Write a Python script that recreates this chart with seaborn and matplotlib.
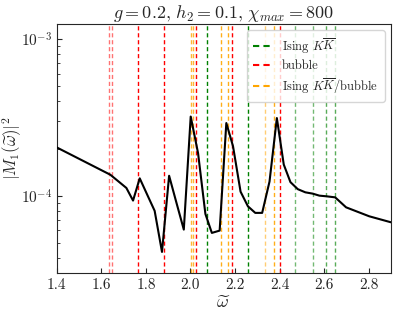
"""Form factor |M_1(omega)|^2 with threshold lines."""

import matplotlib
matplotlib.use("Agg")
import matplotlib.pyplot as plt
import numpy as np
import pandas as pd
import seaborn as sns

omega = [1.40, 1.64, 1.712, 1.742, 1.772, 1.809, 1.839, 1.872, 1.904, 1.937,
         1.970, 2.001, 2.034, 2.067, 2.096, 2.131, 2.161, 2.191, 2.225, 2.258,
         2.291, 2.322, 2.355, 2.388, 2.419, 2.449, 2.482, 2.516, 2.549, 2.579,
         2.612, 2.650, 2.699, 2.803, 2.90]
m1_sq = [2.03e-4, 1.36e-4, 1.12e-4, 9.3e-5, 1.29e-4, 9.9e-5, 8.0e-5, 4.37e-5,
         1.34e-4, 9.0e-5, 6.07e-5, 3.2e-4, 1.87e-4, 7.64e-5, 5.78e-5, 5.98e-5,
         2.91e-4, 2.07e-4, 1.06e-4, 8.55e-5, 7.76e-5, 7.76e-5, 1.23e-4, 3.13e-4,
         1.58e-4, 1.22e-4, 1.10e-4, 1.05e-4, 1.03e-4, 1.0e-4, 9.9e-5, 9.75e-5,
         8.42e-5, 7.38e-5, 6.76e-5]

ising_kk = [2.073, 2.258, 2.470, 2.549, 2.609, 2.648]
ising_kk_alpha = [1.0, 1.0, 0.55, 0.55, 0.65, 0.65]
bubble = [1.636, 1.646, 1.762, 1.880, 2.025, 2.188, 2.401]
bubble_alpha = [0.55, 0.55, 1.0, 1.0, 1.0, 1.0, 1.0]
mixed = [2.003, 2.010, 2.137, 2.167, 2.336, 2.373]
mixed_alpha = [0.8, 0.8, 0.9, 0.9, 0.55, 0.9]

sns.set_style("ticks")
plt.rcParams["font.family"] = "serif"
plt.rcParams["font.serif"] = ["cmr10", "DejaVu Serif"]
plt.rcParams["mathtext.fontset"] = "cm"
plt.rcParams["axes.formatter.use_mathtext"] = True
plt.rcParams["xtick.direction"] = "in"
plt.rcParams["ytick.direction"] = "in"

fig, ax = plt.subplots(figsize=(3.98, 3.15), dpi=100)
fig.subplots_adjust(left=0.143, right=0.982, bottom=0.133, top=0.924)

groups = [
    (ising_kk, ising_kk_alpha, "green", r"Ising $K\overline{K}$"),
    (bubble, bubble_alpha, "red", "bubble"),
    (mixed, mixed_alpha, "orange", r"Ising $K\overline{K}$/bubble"),
]
for xs, alphas, color, label in groups:
    for i, (xv, a) in enumerate(zip(xs, alphas)):
        ax.axvline(xv, color=color, ls=(0, (3, 2)), lw=1.0, alpha=a,
                   label=label if i == 0 else None, zorder=1)

df = pd.DataFrame({"omega": omega, "m1": m1_sq})
sns.lineplot(data=df, x="omega", y="m1", color="black", lw=1.5, ax=ax,
             zorder=3, legend=False)

ax.set_yscale("log")
ax.set_xlim(1.4, 2.9)
ax.set_ylim(3.2e-5, 1.25e-3)
ticks = np.arange(1.4, 2.81, 0.2)
ax.set_xticks(ticks)
ax.set_xticklabels([f"{t:.1f}" for t in ticks])
ax.tick_params(axis="both", which="both", labelsize=11)
ax.tick_params(axis="y", which="minor", length=2)
ax.set_xlabel(r"$\widetilde{\omega}$", fontsize=13, labelpad=2)
ax.set_ylabel(r"$|M_1(\widetilde{\omega})|^2$", fontsize=12)
ax.yaxis.set_label_coords(-0.098, 0.5)
ax.set_title(r"$g = 0.2,\, h_2 = 0.1,\, \chi_{max} = 800$", fontsize=13, pad=3)

leg = ax.legend(loc="upper right", fontsize=9, handlelength=1.5,
                framealpha=0.8, borderpad=0.5, labelspacing=0.35)
for h in leg.get_lines():
    h.set_linewidth(1.5)
    h.set_alpha(1.0)

plt.savefig("out.png", dpi=100)
plt.close()
